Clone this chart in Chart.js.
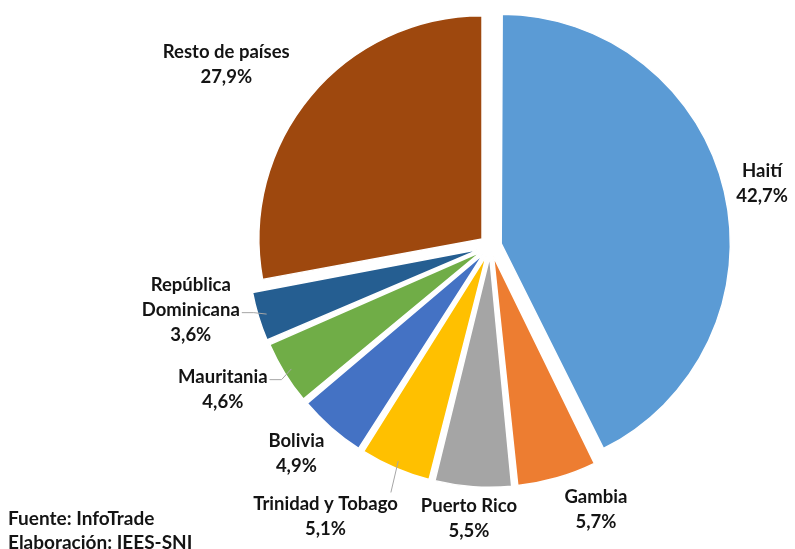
<!DOCTYPE html>
<html lang="es">
<head>
<meta charset="UTF-8">
<title>Exportaciones por destino</title>
<script src="https://cdn.jsdelivr.net/npm/chart.js"></script>
<style>
    body {
        margin: 0;
        background: #fff;
        font-family: Lato, 'Noto Sans', Arial, sans-serif;
    }
    .wrap {
        position: relative;
        width: 795px;
        height: 549px;
        overflow: hidden;
    }
    .fuente {
        position: absolute;
        left: 8px;
        top: 506px;
        font-size: 19px;
        font-weight: bold;
        line-height: 24px;
        color: #141414;
    }
</style>
</head>
<body>
<div class="wrap">
    <canvas id="pieChart"></canvas>
    <div class="fuente">Fuente: InfoTrade<br>Elaboración: IEES-SNI</div>
</div>

<script>
const paises = ['Haití', 'Gambia', 'Puerto Rico', 'Trinidad y Tobago', 'Bolivia', 'Mauritania', 'República\nDominicana', 'Resto de países'];
const participacion = [42.7, 5.7, 5.5, 5.1, 4.9, 4.6, 3.6, 27.9];
const colores = ['#5B9BD5', '#ED7D31', '#A5A5A5', '#FFC000', '#4472C4', '#70AD47', '#255E91', '#9E480E'];

// nudges for the labels (px), relative to the point 50px outside each slice
const labelNudge = [[-5, 2], [27, -9], [-1, -11], [-53, 10], [-7, -6], [-26, -6], [-28, -19], [-46, 0]];
// leader lines: null, 'top' (to top of label) or line index to attach on the side
const leaders = [null, null, null, 'top', null, 0, 1, null];

const labelPlugin = {
    id: 'pieLabels',
    afterDatasetsDraw(chart) {
        const ctx = chart.ctx;
        const arcs = chart.getDatasetMeta(0).data;
        ctx.save();
        ctx.font = 'bold 18.5px Lato, "Noto Sans", Arial, sans-serif';
        ctx.fillStyle = '#141414';
        ctx.textAlign = 'center';
        ctx.textBaseline = 'middle';
        arcs.forEach((arc, i) => {
            const mid = (arc.startAngle + arc.endAngle) / 2;
            const shift = (arc.options.offset || 0) / 4;
            const edgeR = arc.outerRadius + shift;
            const ex = arc.x + Math.cos(mid) * edgeR;
            const ey = arc.y + Math.sin(mid) * edgeR;
            const ax = arc.x + Math.cos(mid) * (edgeR + 50) + labelNudge[i][0];
            const ay = arc.y + Math.sin(mid) * (edgeR + 50) + labelNudge[i][1];
            const lines = paises[i].split('\n');
            lines.push(participacion[i].toFixed(1).replace('.', ',') + '%');
            const lh = 25;
            const y0 = ay - (lines.length - 1) * lh / 2;
            lines.forEach((t, k) => ctx.fillText(t, ax, y0 + k * lh));

            const lead = leaders[i];
            if (lead !== null) {
                ctx.strokeStyle = '#a6a6a6';
                ctx.lineWidth = 1;
                ctx.beginPath();
                if (lead === 'top') {
                    const w = ctx.measureText(lines[0]).width;
                    ctx.moveTo(ex, ey);
                    ctx.lineTo(ax + w / 2 - 7, y0 - 12);
                } else {
                    const w = ctx.measureText(lines[lead]).width;
                    const ly = y0 + lead * lh + 3;
                    const tx = ax + w / 2 + 2;
                    ctx.moveTo(ex, ey);
                    ctx.lineTo(tx + 12, ly);
                    ctx.lineTo(tx, ly);
                }
                ctx.stroke();
            }
        });
        ctx.restore();
    }
};

new Chart(document.getElementById('pieChart'), {
    type: 'pie',
    data: {
        labels: paises,
        datasets: [{
            data: participacion,
            backgroundColor: colores,
            borderColor: '#ffffff',
            borderWidth: 1.5,
            offset: 44
        }]
    },
    options: {
        responsive: true,
        maintainAspectRatio: false,
        animation: false,
        radius: 223,
        layout: { padding: { left: 186, right: 0, top: 0, bottom: 57 } },
        plugins: {
            legend: { display: false },
            tooltip: { enabled: false }
        }
    },
    plugins: [labelPlugin]
});
</script>
</body>
</html>
